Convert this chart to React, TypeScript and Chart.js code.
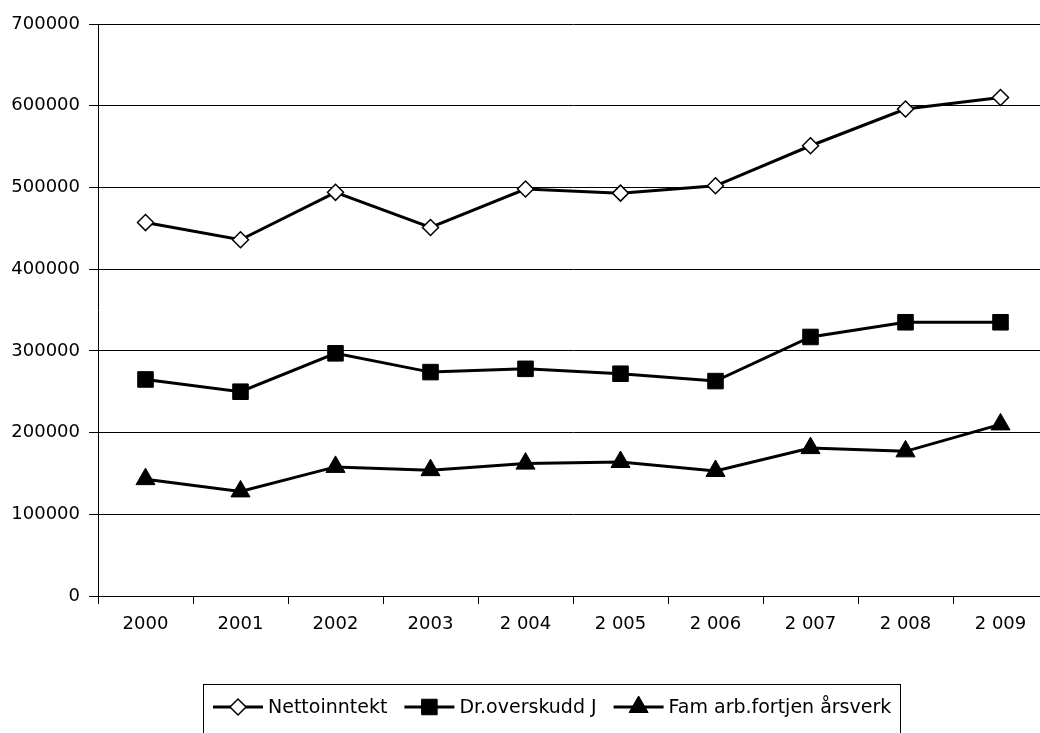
import React, { useEffect, useRef } from "react";
import { Chart, registerables } from "chart.js";

Chart.register(...registerables);

const categories = ["2000", "2001", "2002", "2003", "2 004", "2 005", "2 006", "2 007", "2 008", "2 009"];
const nettoinntekt = [457000, 436000, 494000, 451000, 498000, 493000, 502000, 551000, 596000, 610000];
const drOverskudd = [265000, 250000, 297000, 274000, 278000, 272000, 263000, 317000, 335000, 335000];
const famArbFortjen = [143000, 128000, 158000, 154000, 162000, 164000, 153000, 181000, 177000, 210000];
const seriesLabels = ["Nettoinntekt", "Dr.overskudd J", "Fam arb.fortjen årsverk"];
const yMin = 0;
const yMax = 700000;
const yStep = 100000;

const FONT = "'DejaVu Sans', sans-serif";

function drawMarker(ctx: CanvasRenderingContext2D, style: string, x: number, y: number, r: number, fill: string, bw: number) {
  ctx.beginPath();
  if (style === "rectRot") {
    ctx.moveTo(x, y - r);
    ctx.lineTo(x + r, y);
    ctx.lineTo(x, y + r);
    ctx.lineTo(x - r, y);
  } else if (style === "rect") {
    const s = r * Math.SQRT1_2;
    ctx.rect(x - s, y - s, 2 * s, 2 * s);
  } else {
    const a = (2 * Math.PI) / 3;
    ctx.moveTo(x, y - r);
    ctx.lineTo(x + Math.sin(a) * r, y - Math.cos(a) * r);
    ctx.lineTo(x + Math.sin(2 * a) * r, y - Math.cos(2 * a) * r);
  }
  ctx.closePath();
  ctx.fillStyle = fill;
  ctx.fill();
  ctx.lineWidth = bw;
  ctx.strokeStyle = "#000";
  ctx.stroke();
}

const boxLegend = {
  id: "boxLegend",
  afterDraw(chart: any) {
    const ctx: CanvasRenderingContext2D = chart.ctx;
    ctx.save();
    ctx.strokeStyle = "#000";
    ctx.lineWidth = 1;
    ctx.strokeRect(203.5, 684.5, 697, 80);
    ctx.font = "19px " + FONT;
    ctx.textBaseline = "middle";
    ctx.textAlign = "left";
    const y = 707;
    let x = 213;
    chart.data.datasets.forEach((ds: any) => {
      ctx.strokeStyle = "#000";
      ctx.lineWidth = 3;
      ctx.beginPath();
      ctx.moveTo(x, y);
      ctx.lineTo(x + 50, y);
      ctx.stroke();
      drawMarker(ctx, ds.pointStyle, x + 25, y, ds.pointRadius, ds.pointBackgroundColor, ds.pointBorderWidth);
      ctx.fillStyle = "#000";
      const tx = x + 55;
      ctx.fillText(ds.label, tx, y + 1);
      x = tx + ctx.measureText(ds.label).width + 17;
    });
    ctx.restore();
  },
};

export default function App() {
  const ref = useRef<HTMLCanvasElement | null>(null);

  useEffect(() => {
    if (!ref.current) return;
    const chart = new Chart(ref.current, {
      type: "line",
      data: {
        labels: categories,
        datasets: [
          {
            label: seriesLabels[0],
            data: nettoinntekt,
            borderColor: "#000",
            borderWidth: 3,
            pointStyle: "rectRot",
            pointRadius: 8,
            pointBackgroundColor: "#fff",
            pointBorderColor: "#000",
            pointBorderWidth: 1.5,
            tension: 0,
          },
          {
            label: seriesLabels[1],
            data: drOverskudd,
            borderColor: "#000",
            borderWidth: 3,
            pointStyle: "rect",
            pointRadius: 11,
            pointBackgroundColor: "#000",
            pointBorderColor: "#000",
            pointBorderWidth: 1,
            tension: 0,
          },
          {
            label: seriesLabels[2],
            data: famArbFortjen,
            borderColor: "#000",
            borderWidth: 3,
            pointStyle: "triangle",
            pointRadius: 11,
            pointBackgroundColor: "#000",
            pointBorderColor: "#000",
            pointBorderWidth: 1,
            tension: 0,
          },
        ],
      },
      options: {
        responsive: true,
        maintainAspectRatio: false,
        animation: false,
        layout: { padding: { left: 0, right: 5, top: 24, bottom: 0 } },
        plugins: { legend: { display: false }, tooltip: { enabled: false } },
        scales: {
          x: {
            offset: true,
            grid: { offset: true, drawOnChartArea: false, drawTicks: true, tickLength: 8, color: "#000", lineWidth: 1 },
            border: { display: true, color: "#000", width: 1 },
            ticks: { color: "#000", font: { family: FONT, size: 18 }, padding: 10, maxRotation: 0, autoSkip: false },
            afterFit: (s: any) => {
              s.height = 137;
            },
          },
          y: {
            min: yMin,
            max: yMax,
            ticks: {
              stepSize: yStep,
              color: "#000",
              font: { family: FONT, size: 18 },
              padding: 9,
              callback: (v: any) => String(v),
            },
            grid: { color: "#000", lineWidth: 1, tickLength: 9, drawTicks: true },
            border: { display: true, color: "#000", width: 1 },
            afterFit: (s: any) => {
              s.width = 98;
            },
          },
        },
      },
      plugins: [boxLegend],
    });
    return () => chart.destroy();
  }, []);

  return (
    <div style={{ position: "fixed", left: 0, top: 0, width: "100vw", height: "100vh", overflow: "hidden", background: "#fff" }}>
      <div style={{ position: "absolute", left: 0, top: 0, width: 1060, height: 733 }}>
        <canvas ref={ref} />
      </div>
    </div>
  );
}
